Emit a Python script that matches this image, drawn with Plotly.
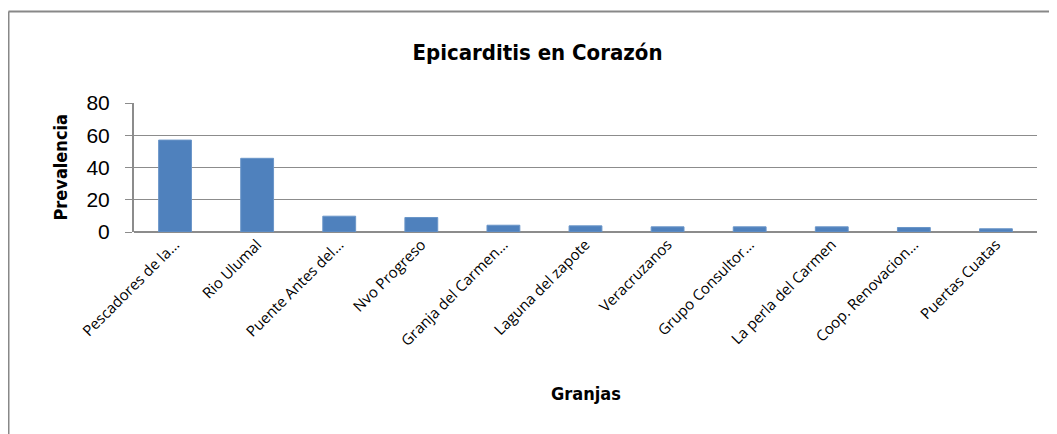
import plotly.graph_objects as go

categories = ["Pescadores de la…", "Rio Ulumal", "Puente Antes del…", "Nvo Progreso",
              "Granja del Carmen…", "Laguna del zapote", "Veracruzanos", "Grupo Consultor…",
              "La perla del Carmen", "Coop. Renovacion…", "Puertas Cuatas"]
prevalencia = [57, 45.7, 9.8, 9.0, 4.2, 3.8, 3.2, 3.2, 3.2, 2.8, 2.0]
y_ticks = [0, 20, 40, 60, 80]

# page body has an 8px margin, so the figure is drawn 8px in from the window edge
OFF = 8
W, H = 1057 - OFF, 434 - OFF
L, R, T, B = 134 - OFF, 20, 103 - OFF, 202
pw, ph = W - L - R, H - T - B

def px_x(x):
    return (x - OFF - L) / pw

def px_y(y):
    return (H - B - (y - OFF)) / ph

title_font = "DejaVu Sans Condensed, Liberation Sans Narrow, Arial Narrow, sans-serif"

fig = go.Figure(go.Bar(
    x=categories, y=prevalencia,
    marker=dict(color="#4F81BD", line=dict(color="#6A95C8", width=1)),
    width=0.4,
))

fig.update_layout(
    width=W, height=H,
    margin=dict(l=L, r=R, t=T, b=B),
    paper_bgcolor="white", plot_bgcolor="white",
    showlegend=False,
    title=dict(text="<b>Epicarditis en Corazón</b>", x=(537.5 - OFF) / W, xanchor="center",
               y=1 - (52 - OFF) / H, yanchor="middle",
               font=dict(family=title_font, size=22, color="black")),
    xaxis=dict(
        tickangle=-45, tickfont=dict(family="Open Sans, Liberation Sans, sans-serif", size=15, color="black"),
        showgrid=False, showline=False, ticks="", zeroline=False,
        automargin=False,
    ),
    yaxis=dict(
        range=[0, 80], tickvals=y_ticks,
        tickfont=dict(family="Liberation Sans, Arial, sans-serif", size=21, color="black"),
        showgrid=True, gridcolor="#8C8C8C", gridwidth=1,
        showline=True, linecolor="#8C8C8C", linewidth=2,
        ticks="outside", ticklen=7, tickcolor="#8C8C8C",
        ticklabelstandoff=11,
        zeroline=True, zerolinecolor="#8C8C8C", zerolinewidth=2,
        automargin=False,
    ),
    annotations=[
        dict(text="<b>Granjas</b>", xref="paper", yref="paper",
             x=px_x(586), y=px_y(393), xanchor="center", yanchor="middle", showarrow=False,
             font=dict(family=title_font, size=18, color="black")),
        dict(text="<b>Prevalencia</b>", xref="paper", yref="paper", textangle=-90,
             x=px_x(60), y=px_y(167.5), xanchor="center", yanchor="middle", showarrow=False,
             font=dict(family=title_font, size=18, color="black")),
    ],
    shapes=[
        dict(type="line", xref="paper", yref="paper", x0=px_x(8.5), x1=px_x(1070),
             y0=px_y(11.5), y1=px_y(11.5), line=dict(color="#888888", width=2)),
        dict(type="line", xref="paper", yref="paper", x0=px_x(8.5), x1=px_x(8.5),
             y0=px_y(11.5), y1=px_y(440), line=dict(color="#888888", width=2)),
    ],
)

fig.write_html("out.html")
